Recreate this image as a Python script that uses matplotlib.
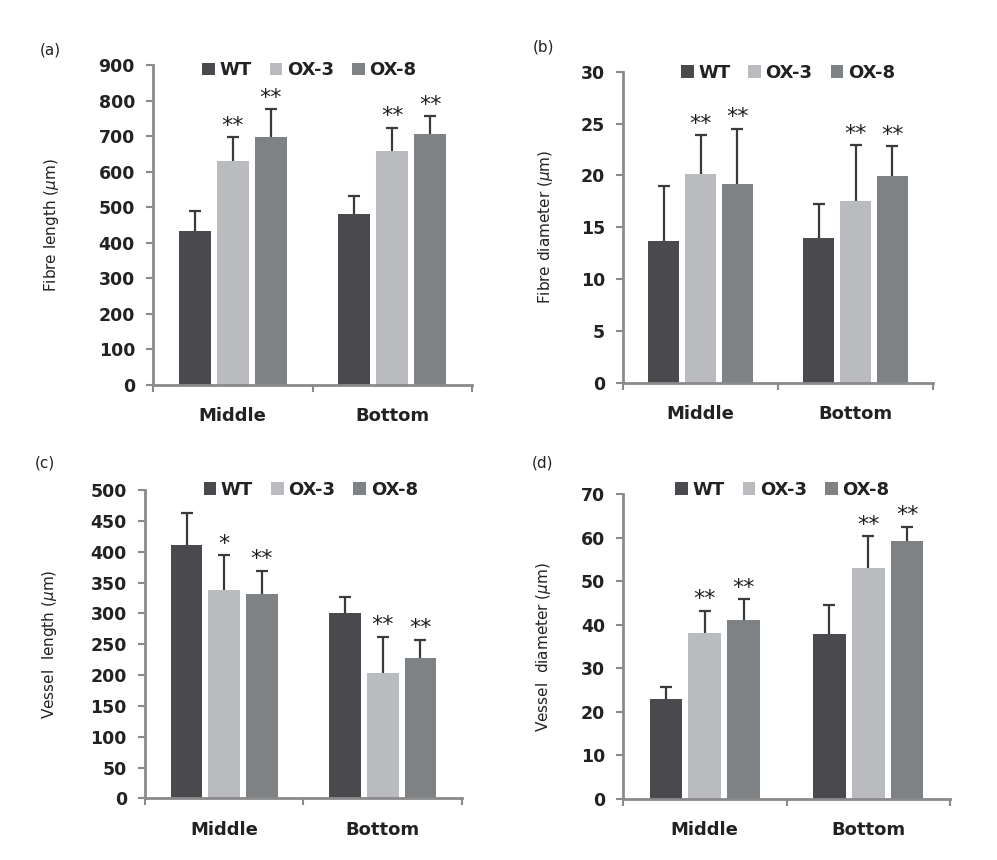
import numpy as np
import matplotlib
matplotlib.use("Agg")
import matplotlib.pyplot as plt

groups = ["Middle", "Bottom"]
lines = ["WT", "OX-3", "OX-8"]
colors = ["#4a4a4e", "#b9bbbe", "#7f8285"]

# values (mean, upper error) per line, [Middle, Bottom]
fibre_len = [[434, 481], [631, 659], [697, 706]]
fibre_len_err = [[55, 51], [67, 65], [79, 51]]
fibre_len_sig = [["", ""], ["**", "**"], ["**", "**"]]

fibre_dia = [[13.7, 14.0], [20.1, 17.5], [19.2, 19.9]]
fibre_dia_err = [[5.3, 3.2], [3.8, 5.4], [5.3, 2.9]]
fibre_dia_sig = [["", ""], ["**", "**"], ["**", "**"]]

vessel_len = [[411, 301], [338, 204], [331, 228]]
vessel_len_err = [[52, 26], [56, 58], [38, 29]]
vessel_len_sig = [["", ""], ["*", "**"], ["**", "**"]]

vessel_dia = [[22.9, 37.8], [38.2, 53.1], [41.1, 59.3]]
vessel_dia_err = [[2.8, 6.8], [5.1, 7.3], [4.8, 3.3]]
vessel_dia_sig = [["", ""], ["**", "**"], ["**", "**"]]

panels = [
    ("(a)", fibre_len, fibre_len_err, fibre_len_sig, r"Fibre length ($\mu$m)", 900, 100),
    ("(b)", fibre_dia, fibre_dia_err, fibre_dia_sig, r"Fibre diameter ($\mu$m)", 30, 5),
    ("(c)", vessel_len, vessel_len_err, vessel_len_sig, r"Vessel  length ($\mu$m)", 500, 50),
    ("(d)", vessel_dia, vessel_dia_err, vessel_dia_sig, r"Vessel  diameter ($\mu$m)", 70, 10),
]

# axes boxes in figure fractions, plus label x, legend pos, panel letter pos
boxes = [[0.1535, 0.5523, 0.320, 0.372],
         [0.6249, 0.5547, 0.311, 0.362],
         [0.1454, 0.0717, 0.318, 0.3585],
         [0.6249, 0.0709, 0.328, 0.3543]]
label_x = [-0.29, -0.22, -0.27, -0.214]
legend_xy = [(0.49, 0.984), (0.532, 0.997), (0.523, 1.0), (0.487, 1.014)]
letter_xy = [(40, 50), (533, 47), (35, 463), (532, 463)]

W, H = 997, 860
fig = plt.figure(figsize=(W / 100, H / 100), dpi=100)

width = 0.2
step = 0.2375
spine_col = "#8a8a8a"

for i, (letter, vals, errs, sigs, ylab, ymax, ystep) in enumerate(panels):
    ax = fig.add_axes(boxes[i])
    x = np.arange(len(groups)) + 0.5
    for j, name in enumerate(lines):
        pos = x + (j - 1) * step
        ax.bar(pos, vals[j], width, color=colors[j], label=name, zorder=2)
        eb = ax.errorbar(pos, vals[j], yerr=[np.zeros(2), errs[j]], fmt="none",
                         ecolor="#3a3a3c", elinewidth=1.6, capsize=4, capthick=1.6, zorder=1)
        eb[1][0].set_visible(False)  # no cap on the lower side
        for k in range(len(groups)):
            if sigs[j][k]:
                ax.annotate(sigs[j][k], (pos[k], vals[j][k] + errs[j][k]),
                            xytext=(0, 1), textcoords="offset points",
                            ha="center", va="bottom", fontsize=16, color="#222222")
    ax.set_xlim(0, 2)
    ax.set_ylim(0, ymax)
    ax.set_yticks(np.arange(0, ymax + ystep / 2, ystep))
    ax.set_xticks([0, 1, 2])
    ax.set_xticklabels([])
    ax.set_xticks(x, minor=True)
    ax.set_xticklabels(groups, minor=True, fontsize=13, fontweight="bold", color="#222222")
    ax.tick_params(axis="x", which="minor", length=0, pad=16)
    ax.tick_params(axis="x", which="major", length=5, width=1.5, color=spine_col, direction="out")
    ax.tick_params(axis="y", length=5, width=1.5, color=spine_col, direction="out",
                   labelsize=12.5, labelcolor="#222222", pad=8)
    for lab in ax.get_yticklabels():
        lab.set_fontweight("bold")
    for s in ["top", "right"]:
        ax.spines[s].set_visible(False)
    for s in ["left", "bottom"]:
        ax.spines[s].set_color(spine_col)
        ax.spines[s].set_linewidth(2)
    ax.set_ylabel(ylab, fontsize=11, color="#222222")
    ax.yaxis.set_label_coords(label_x[i], 0.5)
    leg = ax.legend(ncol=3, loc="center", bbox_to_anchor=legend_xy[i], frameon=False,
                    handlelength=0.7, handleheight=0.7, handletextpad=0.25,
                    columnspacing=1.0, borderaxespad=0,
                    prop={"weight": "bold", "size": 13})
    for t in leg.get_texts():
        t.set_color("#222222")
    fig.text(letter_xy[i][0] / W, 1 - letter_xy[i][1] / H, letter,
             fontsize=11, va="center", ha="left", color="#222222")

fig.savefig("out.png", dpi=100)
